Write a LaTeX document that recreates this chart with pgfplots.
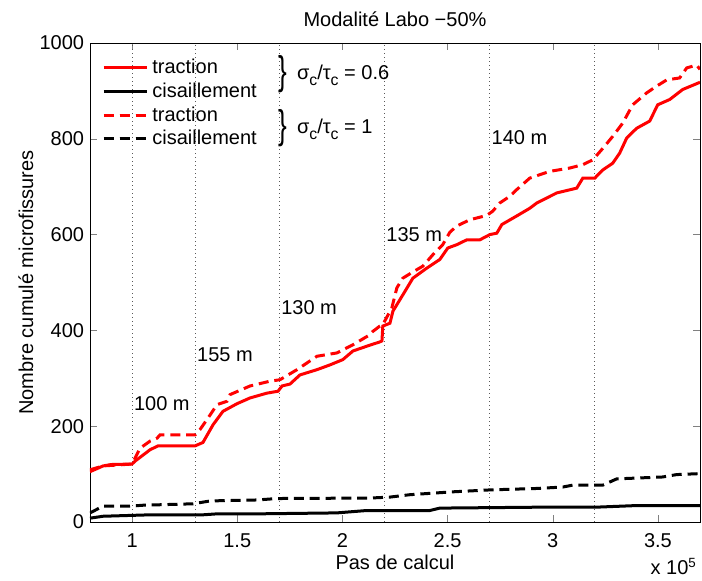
\documentclass[border=0pt]{standalone}
\usepackage{fontspec}
\setmainfont{Liberation Sans}
\usepackage{graphicx}
\usepackage{pgfplots}
\pgfplotsset{compat=1.18}

\definecolor{mred}{RGB}{255,0,0}
\newcommand{\sub}[1]{\raisebox{-4pt}{\fontsize{9.5}{11}\selectfont #1}}
\newcommand{\bbrace}{\raisebox{-3pt}{\scalebox{1.3}[2.0]{\}}}\hspace{6pt}}

\begin{document}
\begin{tikzpicture}
% page frame: 1 px of the reference = 0.6 pt, axis box at (0,0)-(366pt,287.4pt)
\path[use as bounding box] (-54pt,-35.4pt) rectangle (367.2pt,313.2pt);
\begin{axis}[
    scale only axis,
    width=366pt, height=287.4pt,
    xmin=0.8, xmax=3.7, ymin=0, ymax=1000,
    clip mode=individual,
    xtick={1,1.5,2,2.5,3,3.5},
    xticklabels={1,1.5,2,2.5,3,3.5},
    ytick={0,200,400,600,800,1000},
    tick align=inside,
    xtick pos=both, ytick pos=both,
    major tick length=4pt,
    /pgf/number format/assume math mode=true,
    /pgf/number format/1000 sep={},
    font=\fontsize{12}{14.4}\selectfont,
    tick label style={font=\fontsize{12}{14.4}\selectfont},
    xticklabel style={anchor=base, yshift=-15.6pt},
    extra x ticks={1,1.3,1.7,2.2,2.7,3.2},
    extra x tick labels={},
    extra x tick style={grid=major, major tick length=0pt,
        major grid style={dotted, black!65, line width=0.5pt}},
    title={Modalité Labo −50\%},
    every axis title/.style={at={(0.5,1)}, anchor=base, yshift=9.6pt},
    xlabel={Pas de calcul},
    every axis x label/.style={at={(0.5,0)}, anchor=base, yshift=-28.8pt},
    ylabel={Nombre cumulé microfissures},
    every axis y label/.style={at={(rel axis cs:-0.105,0.5)}, rotate=90, anchor=center},
    legend style={at={(0.017,0.977)}, anchor=north west, draw=none, fill=none,
        inner sep=1pt, row sep=0pt, font=\fontsize{12}{14.4}\selectfont},
    legend cell align=left,
    legend image code/.code={\draw[#1] (0cm,0cm) -- (0.85cm,0cm);
        \path (0cm,0cm) -- (0.92cm,0cm);},
    every axis plot/.append style={line width=1.8pt},
]
% traction, sigma_c/tau_c = 0.6
\addplot[mred, solid] coordinates {
(0.80,105)(0.862,117)(0.90,120)(1.00,121)(1.014,127)(1.086,151)(1.124,159)
(1.30,159)(1.337,166)(1.385,203)(1.432,231)(1.499,247)(1.561,259)(1.641,269)
(1.694,273)(1.713,284)(1.751,288)(1.798,307)(1.879,318)(1.941,328)(2.002,339)
(2.050,357)(2.116,367)(2.178,376)(2.188,378)(2.192,409)(2.226,415)(2.240,440)
(2.287,474)(2.335,509)(2.401,530)(2.463,548)(2.501,572)(2.544,579)(2.591,589)
(2.653,589)(2.701,600)(2.734,603)(2.758,621)(2.829,639)(2.891,655)(2.924,666)
(3.019,687)(3.114,697)(3.143,718)(3.200,718)(3.238,735)(3.285,749)(3.318,770)
(3.352,802)(3.399,822)(3.461,837)(3.499,871)(3.556,882)(3.618,903)(3.70,918)
};
% cisaillement, sigma_c/tau_c = 0.6
\addplot[black, solid] coordinates {
(0.80,8)(0.862,12)(1.086,15)(1.337,15)(1.404,17)(1.594,17)(1.974,19)(2.116,24)
(2.416,24)(2.463,29)(2.952,31)(3.209,31)(3.380,34)(3.70,34)
};
% traction, sigma_c/tau_c = 1
\addplot[mred, dash pattern=on 6pt off 3.5pt] coordinates {
(0.80,109)(0.862,117)(1.00,121)(1.038,154)(1.086,169)(1.119,175)(1.133,182)
(1.30,182)(1.323,193)(1.361,217)(1.404,245)(1.451,252)(1.466,266)(1.561,284)
(1.656,294)(1.703,297)(1.784,318)(1.879,346)(1.974,353)(2.050,370)(2.131,391)
(2.145,398)(2.178,409)(2.192,412)(2.235,447)(2.259,489)(2.287,509)(2.335,522)
(2.382,534)(2.430,558)(2.477,579)(2.511,605)(2.544,618)(2.606,631)(2.686,640)
(2.715,649)(2.748,666)(2.796,680)(2.829,694)(2.891,718)(2.986,732)(3.081,739)
(3.143,746)(3.190,756)(3.238,780)(3.285,805)(3.333,833)(3.380,871)(3.447,896)
(3.494,910)(3.542,923)(3.603,927)(3.637,948)(3.684,954)(3.70,945)
};
% cisaillement, sigma_c/tau_c = 1
\addplot[black, dash pattern=on 6pt off 3.5pt] coordinates {
(0.80,19)(0.862,33)(0.99,33)(1.052,35)(1.290,38)(1.371,44)(1.594,46)(1.689,49)
(2.131,50)(2.226,52)(2.321,57)(2.525,63)(2.701,67)(2.924,70)(3.048,73)(3.095,77)
(3.238,77)(3.304,90)(3.523,94)(3.589,99)(3.70,101)
};
\legend{traction, cisaillement, traction, cisaillement}

\node[anchor=base west, inner sep=0pt] at (rel axis cs:0.3082,0.9248)
    {\bbrace σ\sub{c}/τ\sub{c} = 0.6};
\node[anchor=base west, inner sep=0pt] at (rel axis cs:0.3082,0.8121)
    {\bbrace σ\sub{c}/τ\sub{c} = 1};

\node[anchor=west, inner sep=1pt] at (axis cs:1.0,248) {100 m};
\node[anchor=west, inner sep=1pt] at (axis cs:1.3,349) {155 m};
\node[anchor=west, inner sep=1pt] at (axis cs:1.7,447) {130 m};
\node[anchor=west, inner sep=1pt] at (axis cs:2.2,600) {135 m};
\node[anchor=west, inner sep=1pt] at (axis cs:2.7,802) {140 m};

\node[anchor=base east, inner sep=0pt] at (rel axis cs:1,0)
    [xshift=-1.8pt, yshift=-31.8pt] {x 10\textsuperscript{5}};
\end{axis}
\end{tikzpicture}
\end{document}
